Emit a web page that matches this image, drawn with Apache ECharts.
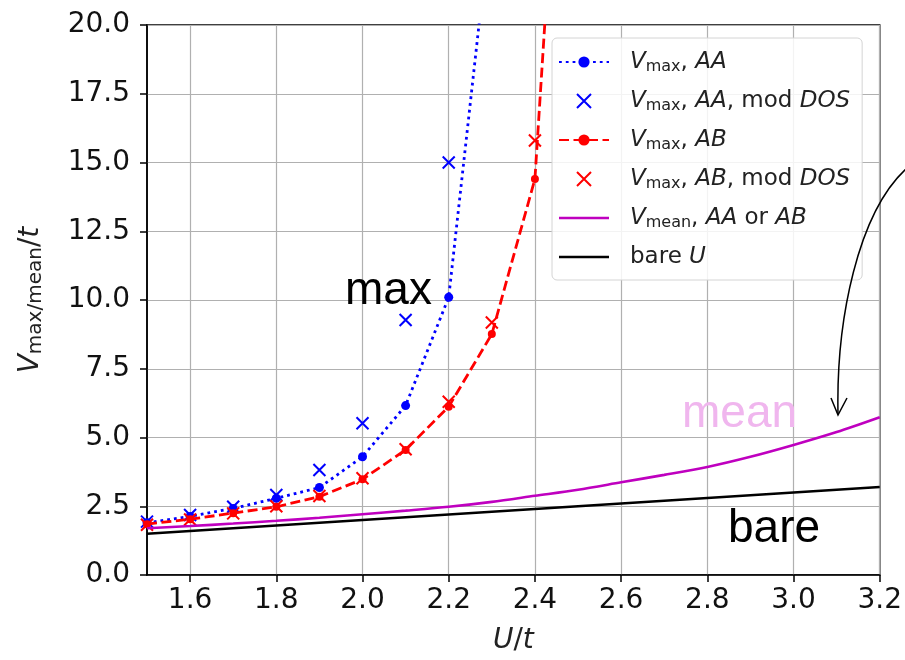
<!DOCTYPE html>
<html>
<head>
<meta charset="utf-8">
<title>V_max / V_mean vs U/t</title>
<script src="https://cdn.jsdelivr.net/npm/echarts@6/dist/echarts.min.js"></script>
</head>
<body style="margin:0;padding:0;background:#ffffff;">
<div id="main" style="width:905px;height:660px;"></div>
<script type="text/javascript">
// ---- data ----
var uAA       = [1.5, 1.6, 1.7, 1.8, 1.9, 2.0, 2.1, 2.2, 2.3];
var vMaxAA    = [1.90, 2.13, 2.42, 2.79, 3.18, 4.30, 6.16, 10.1, 24.2];
var uAAmod    = [1.5, 1.6, 1.7, 1.8, 1.9, 2.0, 2.1, 2.2];
var vMaxAAmod = [1.94, 2.18, 2.48, 2.91, 3.82, 5.52, 9.27, 15.0];
var uAB       = [1.5, 1.6, 1.7, 1.8, 1.9, 2.0, 2.1, 2.2, 2.3, 2.4, 2.5];
var vMaxAB    = [1.85, 2.03, 2.25, 2.48, 2.85, 3.48, 4.55, 6.12, 8.76, 14.4, 39.0];
var uABmod    = [1.5, 1.6, 1.7, 1.8, 1.9, 2.0, 2.1, 2.2, 2.3, 2.4];
var vMaxABmod = [1.83, 2.02, 2.24, 2.50, 2.87, 3.52, 4.57, 6.30, 9.18, 15.8];
var uMean     = [1.5, 1.6, 1.7, 1.8, 1.9, 2.0, 2.1, 2.2, 2.3, 2.4, 2.5, 2.6, 2.7, 2.8, 2.9, 3.0, 3.1, 3.2];
var vMean     = [1.70, 1.78, 1.87, 1.97, 2.08, 2.21, 2.34, 2.48, 2.66, 2.88, 3.10, 3.37, 3.64, 3.93, 4.30, 4.73, 5.20, 5.74];
var uBare     = [1.5, 2.0, 2.5, 3.0, 3.2];
var vBare     = [1.5, 2.0, 2.5, 3.0, 3.2];

var xTicks = [1.6, 1.8, 2.0, 2.2, 2.4, 2.6, 2.8, 3.0, 3.2];
var seriesNames = ['maxAA', 'maxAAmod', 'maxAB', 'maxABmod', 'meanAny', 'bare'];
var legendLabels = {
    maxAA:    '{v|V}{s|max}{n|, }{i|AA}',
    maxAAmod: '{v|V}{s|max}{n|, }{i|AA}{n|, mod }{i|DOS}',
    maxAB:    '{v|V}{s|max}{n|, }{i|AB}',
    maxABmod: '{v|V}{s|max}{n|, }{i|AB}{n|, mod }{i|DOS}',
    meanAny:  '{v|V}{s|mean}{n|, }{i|AA}{n| or }{i|AB}',
    bare:     '{n|bare }{i|U}'
};

function zip(xs, ys) {
    var out = [];
    for (var i = 0; i < xs.length; i++) out.push([xs[i], ys[i]]);
    return out;
}

var crossPath = 'path://M0,0L10,10M10,0L0,10';
var barPath = 'path://M0,0L50,0L50,2.6L0,2.6Z';
var textFont = 'DejaVu Sans';

var chart = echarts.init(document.getElementById('main'));

var richStyle = {
    v: { fontFamily: textFont, fontStyle: 'italic', fontSize: 23, color: '#222', lineHeight: 28 },
    s: { fontFamily: textFont, fontSize: 16, color: '#222', lineHeight: 28, padding: [9, 0, 0, 0] },
    i: { fontFamily: textFont, fontStyle: 'italic', fontSize: 23, color: '#222', lineHeight: 28 },
    n: { fontFamily: textFont, fontSize: 23, color: '#222', lineHeight: 28 }
};

var option = {
    backgroundColor: '#ffffff',
    animation: false,
    grid: {
        left: 147, right: 25, top: 25, bottom: 85,
        show: true, borderColor: '#000', borderWidth: 1.5, backgroundColor: '#fff'
    },
    xAxis: {
        type: 'value', min: 1.5, max: 3.2,
        name: '{i|U}{n|/}{i|t}', nameLocation: 'middle', nameGap: 52,
        nameTextStyle: {
            rich: {
                i: { fontFamily: textFont, fontStyle: 'italic', fontSize: 28, color: '#222' },
                n: { fontFamily: textFont, fontSize: 28, color: '#222' }
            }
        },
        axisLine: { show: true, onZero: false, lineStyle: { color: '#000', width: 1.5 } },
        axisTick: { show: true, customValues: xTicks, length: 7, lineStyle: { color: '#000', width: 1.5 } },
        axisLabel: {
            customValues: xTicks, margin: 12, fontFamily: textFont, fontSize: 28, color: '#111',
            formatter: function (v) { return v.toFixed(1); }
        },
        splitLine: { show: true, lineStyle: { color: '#b0b0b0', width: 1.2 } }
    },
    yAxis: {
        type: 'value', min: 0, max: 20, interval: 2.5,
        name: '{v|V}{s|max/mean}{n|/}{i|t}', nameLocation: 'middle', nameGap: 100, nameRotate: 90,
        nameTextStyle: {
            rich: {
                v: { fontFamily: textFont, fontStyle: 'italic', fontSize: 28, color: '#222', lineHeight: 32 },
                s: { fontFamily: textFont, fontSize: 20, color: '#222', lineHeight: 32, padding: [10, 0, 0, 0] },
                i: { fontFamily: textFont, fontStyle: 'italic', fontSize: 28, color: '#222', lineHeight: 32 },
                n: { fontFamily: textFont, fontSize: 28, color: '#222', lineHeight: 32 }
            }
        },
        axisLine: { show: true, lineStyle: { color: '#000', width: 1.5 } },
        axisTick: { show: true, length: 7, lineStyle: { color: '#000', width: 1.5 } },
        axisLabel: {
            margin: 17, fontFamily: textFont, fontSize: 28, color: '#111',
            formatter: function (v) { return v.toFixed(1); }
        },
        splitLine: { show: true, lineStyle: { color: '#b0b0b0', width: 1.2 } }
    },
    legend: {
        orient: 'vertical', left: 552, top: 38,
        padding: [10, 12, 9, 6],
        itemWidth: 50, itemHeight: 14, itemGap: 11,
        backgroundColor: 'rgba(255,255,255,0.85)',
        borderColor: '#d4d4d4', borderWidth: 1, borderRadius: 5,
        data: [
            { name: 'maxAA' }, { name: 'maxAAmod' }, { name: 'maxAB' }, { name: 'maxABmod' },
            { name: 'meanAny', icon: barPath }, { name: 'bare', icon: barPath }
        ],
        formatter: function (name) { return legendLabels[name]; },
        textStyle: { padding: [0, 0, 0, 16], lineHeight: 28, rich: richStyle }
    },
    series: [
        {
            name: 'maxAA', type: 'line', data: zip(uAA, vMaxAA),
            symbol: 'circle', symbolSize: 9, showAllSymbol: true,
            itemStyle: { color: '#0000ff' },
            lineStyle: { color: '#0000ff', width: 2.8, type: [2.8, 4] },
            z: 2
        },
        {
            name: 'maxAAmod', type: 'scatter', data: zip(uAAmod, vMaxAAmod),
            symbol: crossPath, symbolSize: 12,
            itemStyle: { color: '#0000ff', borderColor: '#0000ff', borderWidth: 2, opacity: 1 },
            z: 3
        },
        {
            name: 'maxAB', type: 'line', data: zip(uAB, vMaxAB),
            symbol: 'circle', symbolSize: 8, showAllSymbol: true,
            itemStyle: { color: '#ff0000' },
            lineStyle: { color: '#ff0000', width: 2.8, type: [10, 4.5] },
            z: 4
        },
        {
            name: 'maxABmod', type: 'scatter', data: zip(uABmod, vMaxABmod),
            symbol: crossPath, symbolSize: 12,
            itemStyle: { color: '#ff0000', borderColor: '#ff0000', borderWidth: 2, opacity: 1 },
            z: 5
        },
        {
            name: 'meanAny', type: 'line', data: zip(uMean, vMean),
            symbol: 'none', smooth: 0.3,
            itemStyle: { color: '#bf00bf' },
            lineStyle: { color: '#bf00bf', width: 2.6 },
            z: 6
        },
        {
            name: 'bare', type: 'line', data: zip(uBare, vBare),
            symbol: 'none',
            itemStyle: { color: '#000' },
            lineStyle: { color: '#000', width: 2.6 },
            z: 7
        }
    ],
    graphic: [
        { type: 'text', left: 345, top: 268, z: 100,
          style: { text: 'max', fontFamily: 'Liberation Sans', fontSize: 46, fill: '#000' } },
        { type: 'text', left: 682, top: 391, z: 100,
          style: { text: 'mean', fontFamily: 'Liberation Sans', fontSize: 46, fill: '#f0b6ee' } },
        { type: 'text', left: 728, top: 506, z: 100,
          style: { text: 'bare', fontFamily: 'Liberation Sans', fontSize: 46, fill: '#000' } },
        { type: 'bezierCurve', z: 100,
          shape: { x1: 907, y1: 168, cpx1: 858, cpy1: 212, cpx2: 836, cpy2: 320, x2: 838, y2: 414 },
          style: { stroke: '#000', lineWidth: 1.5, fill: null } },
        { type: 'polyline', z: 100,
          shape: { points: [[831, 398], [838, 415], [847, 398]] },
          style: { stroke: '#000', lineWidth: 1.5, fill: null } }
    ]
};

chart.setOption(option);
</script>
</body>
</html>
